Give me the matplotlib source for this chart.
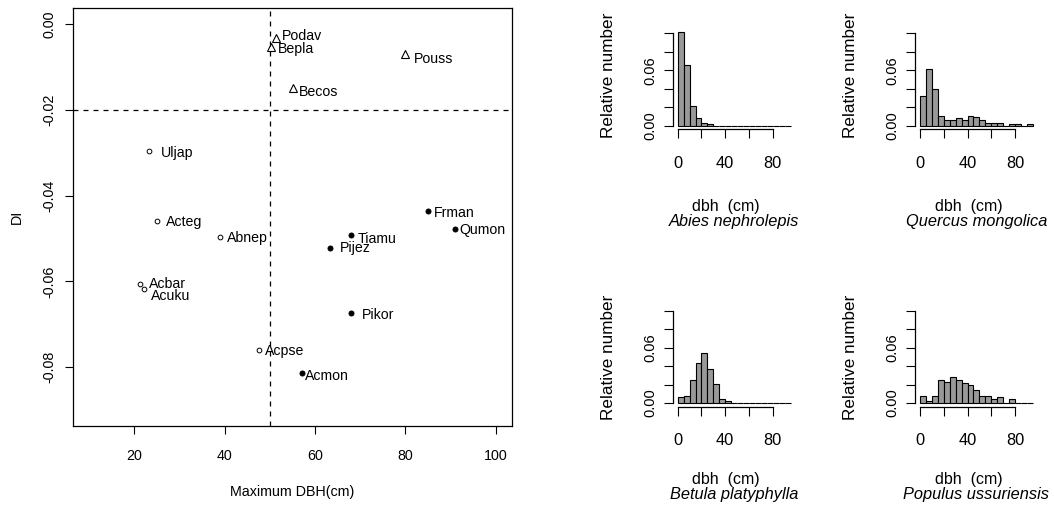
import matplotlib
matplotlib.use("Agg")
import matplotlib.pyplot as plt
import numpy as np

plt.rcParams['font.family'] = ['Liberation Sans', 'DejaVu Sans']

# ---------------- data ----------------
species = ["Podav", "Bepla", "Pouss", "Becos", "Uljap", "Acteg", "Abnep", "Frman",
           "Qumon", "Tiamu", "Pijez", "Acbar", "Acuku", "Pikor", "Acpse", "Acmon"]
max_dbh = [51.4, 50.2, 80.0, 55.1, 23.2, 25.1, 39.0, 85.0,
           91.0, 68.0, 63.3, 21.2, 22.1, 68.0, 47.6, 57.1]
di = [-0.0033, -0.0055, -0.0071, -0.0149, -0.0296, -0.0459, -0.0497, -0.0436,
      -0.0477, -0.0493, -0.0523, -0.0605, -0.0617, -0.0674, -0.0760, -0.0814]
group = ["tri", "tri", "tri", "tri", "open", "open", "open", "filled",
         "filled", "filled", "filled", "open", "open", "filled", "open", "filled"]

x_ticks = [20, 40, 60, 80, 100]
y_ticks = [0.00, -0.02, -0.04, -0.06, -0.08]
y_tick_labels = ["0.00", "-0.02", "-0.04", "-0.06", "-0.08"]

bin_lefts = list(range(0, 95, 5))  # bins 0-5 ... 90-95
hist_names = ["Abies nephrolepis", "Quercus mongolica", "Betula platyphylla", "Populus ussuriensis"]
abies = [0.1018, 0.0653, 0.0215, 0.0088, 0.0033, 0.0015, 0, 0, 0, 0,
         0, 0, 0, 0, 0, 0, 0, 0, 0]
quercus = [0.0318, 0.0609, 0.0398, 0.0102, 0.0058, 0.0058, 0.0088, 0.0062, 0.0102, 0.0091,
           0.0062, 0.0029, 0.0029, 0.0029, 0, 0.0015, 0.0015, 0, 0.0015]
betula = [0.0061, 0.0076, 0.0245, 0.0430, 0.0545, 0.0368, 0.0202, 0.0047, 0.0018, 0,
          0, 0, 0, 0, 0, 0, 0, 0, 0]
populus = [0.0079, 0.0022, 0.0076, 0.0249, 0.0227, 0.0285, 0.0245, 0.0220, 0.0191, 0.0137,
           0.0076, 0.0076, 0.0040, 0.0065, 0, 0.0040, 0, 0, 0]
hist_values = [abies, quercus, betula, populus]
hist_yticks = [0.0, 0.02, 0.04, 0.06, 0.08, 0.10]
hist_xticks = [0, 20, 40, 60, 80]

# label offsets in pixels (dx right, dy down) -- layout only
label_off = {"Podav": (5.7, -1.5), "Bepla": (7.6, 1.5), "Pouss": (8.3, 5), "Becos": (6.3, 4.3),
             "Uljap": (12.4, 2), "Acteg": (9, 1), "Abnep": (7, 1), "Frman": (5.7, 2),
             "Qumon": (4, 1.7), "Tiamu": (7, 3.4), "Pijez": (10, 0), "Acbar": (9, 0),
             "Acuku": (7.4, 7.4), "Pikor": (10.4, 1.6), "Acpse": (6.3, 1.3), "Acmon": (3.3, 2.3)}

W, H = 1054, 508
fig = plt.figure(figsize=(W / 100, H / 100), dpi=100)

def fx(px):
    return px / W

def fy(py):
    return 1 - py / H

# ---------------- scatter ----------------
ax = fig.add_axes([fx(72.7), fy(425.7), fx(512 - 72.7), (425.7 - 8.3) / H])
ax.set_xlim(10 - 3.6, 100 + 3.6)
ax.set_ylim(-0.09 - 0.0036, 0 + 0.0036)
ax.axvline(50, color="black", lw=0.9, linestyle=(0, (4, 4)))
ax.axhline(-0.02, color="black", lw=0.9, linestyle=(0, (4, 4)))
for s, x, y, g in zip(species, max_dbh, di, group):
    if g == "tri":
        ax.plot(x, y, marker="^", ms=5.5, mfc="none", mec="black", mew=0.8, ls="none")
    elif g == "open":
        ax.plot(x, y, marker="o", ms=3.4, mfc="none", mec="black", mew=0.7, ls="none")
    else:
        ax.plot(x, y, marker="o", ms=3.6, mfc="black", mec="black", mew=0.7, ls="none")
    dx, dy = label_off[s]
    ax.annotate(s, (x, y), xytext=(dx * 0.72, -dy * 0.72), textcoords="offset points",
                ha="left", va="center", fontsize=10.2)
ax.set_xticks(x_ticks)
ax.set_xticklabels([str(v) for v in x_ticks], fontsize=10.3)
ax.set_yticks(y_ticks)
ax.set_yticklabels(y_tick_labels, fontsize=10.3, rotation=90, va="center")
ax.tick_params(direction="out", length=5.5, width=0.8)
ax.tick_params(axis="x", pad=11.5)
ax.tick_params(axis="y", pad=6)
for sp in ax.spines.values():
    sp.set_linewidth(0.9)
fig.text(fx(292), fy(492), "Maximum DBH(cm)", ha="center", va="center", fontsize=10.3)
fig.text(fx(17), fy(217), "DI", ha="center", va="center", fontsize=10.3, rotation=90)

# ---------------- histograms ----------------
panels = [  # (left px of x=0, y px of 0.00 baseline, dbh label offset, species offset, ylabel offset)
    (677.7, 125.7, 81.0, 95.8, 50.0),
    (920.0, 125.7, 81.0, 95.8, 50.0),
    (677.7, 403.0, 76.5, 92.0, 45.5),
    (920.0, 403.0, 76.5, 92.0, 45.5),
]
px_per_unit = 1.1875
px_per_dens = 92.4 / 0.10
for (x0, y0, dbh_off, sp_off, yl_off), vals, name in zip(panels, hist_values, hist_names):
    left = x0 - 3.8 * px_per_unit
    right = x0 + 98.8 * px_per_unit
    bottom = y0 + 0.004 * px_per_dens
    top = y0 - 0.104 * px_per_dens
    hx = fig.add_axes([fx(left), fy(bottom), (right - left) / W, (bottom - top) / H])
    hx.bar(bin_lefts, vals, width=5, align="edge", color="#999999",
           edgecolor="black", linewidth=0.8)
    hx.set_xlim(-3.8, 98.8)
    hx.set_ylim(-0.004, 0.104)
    for k in ["top", "right"]:
        hx.spines[k].set_visible(False)
    hx.spines["left"].set_bounds(0, 0.10)
    hx.spines["bottom"].set_bounds(0, 80)
    for k in ["left", "bottom"]:
        hx.spines[k].set_linewidth(0.9)
    hx.set_xticks(hist_xticks)
    hx.set_xticklabels(["0", "", "40", "", "80"], fontsize=11.8)
    hx.set_yticks(hist_yticks)
    hx.set_yticklabels(["0.00", "", "", "0.06", "", ""], fontsize=10.5, rotation=90, va="center")
    hx.tick_params(direction="out", length=6.5, width=0.8)
    hx.tick_params(axis="x", pad=12.5)
    hx.tick_params(axis="y", pad=5)
    cx = (left + right) / 2
    fig.text(fx(x0 - 69.5), fy(y0 - yl_off), "Relative number", rotation=90,
             ha="center", va="center", fontsize=12.3)
    fig.text(fx(cx - 8), fy(y0 + dbh_off), "dbh  (cm)", ha="center", va="center", fontsize=11.5)
    fig.text(fx(cx), fy(y0 + sp_off), name, ha="center", va="center", fontsize=11.8,
             style="italic")

fig.savefig("out.png", dpi=100)
